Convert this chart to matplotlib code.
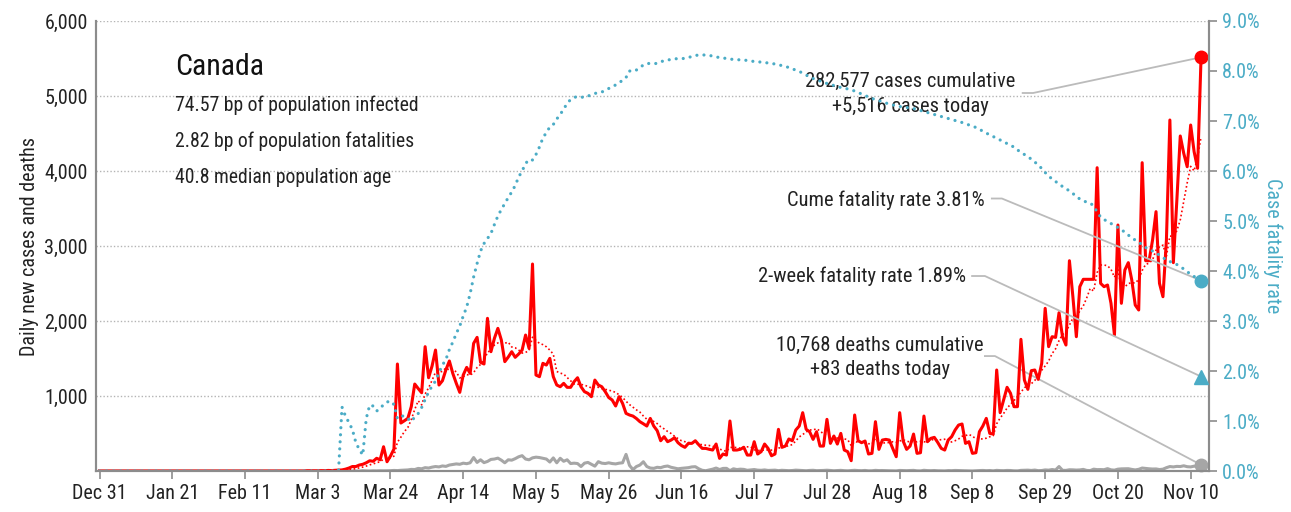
import pandas as pd
import matplotlib
matplotlib.use("Agg")
import matplotlib.pyplot as plt
from matplotlib import font_manager

# ==================================================
# Data (day 0 = Dec 31, 2019)
# ==================================================

start_date = pd.Timestamp("2019-12-31")

cases_lead_zeros = 60
daily_cases = [
    4, 3, 3, 3, 5, 4, 8, 6, 10, 12,
    15, 25, 40, 60, 60, 80, 90, 110, 137, 130,
    170, 150, 324, 124, 200, 293, 1427, 640, 670, 702,
    858, 1160, 1100, 1044, 1658, 1244, 1400, 1613, 1147, 1204,
    1350, 1467, 1300, 1169, 1049, 1280, 1382, 1302, 1702, 1782,
    1449, 1427, 2036, 1591, 1769, 1902, 1747, 1458, 1520, 1591,
    1516, 1560, 1613, 1813, 1636, 2760, 1280, 1258, 1436, 1413,
    1502, 1258, 1147, 1124, 1169, 1116, 1116, 1191, 1244, 1124,
    1058, 1036, 991, 1213, 1147, 1124, 1058, 980, 947, 867,
    991, 902, 769, 747, 733, 700, 658, 630, 600, 702,
    600, 538, 404, 458, 391, 413, 444, 378, 340, 316,
    369, 369, 404, 350, 302, 302, 290, 280, 360, 169,
    227, 213, 667, 280, 280, 290, 316, 213, 213, 391,
    227, 258, 360, 302, 204, 227, 556, 316, 333, 427,
    404, 547, 600, 778, 556, 524, 422, 524, 333, 333,
    689, 369, 467, 360, 502, 280, 258, 138, 747, 404,
    378, 400, 227, 236, 658, 289, 413, 422, 413, 300,
    191, 778, 400, 289, 333, 493, 236, 244, 733, 391,
    436, 449, 380, 302, 280, 413, 458, 547, 613, 627,
    369, 391, 236, 244, 524, 600, 702, 502, 493, 1347,
    778, 947, 1116, 1036, 858, 858, 1756, 1213, 1089, 1338,
    1347, 1222, 1436, 2169, 1658, 1791, 1782, 2111, 1791, 1680,
    2804, 2324, 1791, 2458, 2556, 2556, 2556, 2556, 4044, 2502,
    2458, 2480, 2236, 1813, 3280, 2236, 2680, 2778, 2547, 2213,
    2147, 4111, 2804, 2804, 3080, 3458, 2502, 2324, 3080, 4680,
    2778, 3600, 4467, 4236, 4057, 4613, 4257, 4036, 5516,
]

deaths_lead_zeros = 69
daily_deaths = [
    1,
    0, 0, 0, 0, 0, 0, 5, 2, 1, 3,
    2, 4, 3, 4, 5, 8, 6, 10, 12, 15,
    22, 20, 35, 30, 45, 40, 52, 60, 55, 68,
    62, 80, 88, 95, 90, 105, 98, 110, 180, 115,
    150, 112, 128, 155, 160, 172, 145, 110, 150, 145,
    165, 190, 205, 160, 150, 176, 185, 180, 170, 160,
    120, 175, 110, 170, 130, 150, 100, 105, 100, 60,
    105, 115, 90, 65, 125, 105, 100, 110, 100, 95,
    105, 110, 222, 75, 20, 60, 80, 124, 60, 40,
    36, 50, 45, 60, 67, 50, 40, 30, 36, 40,
    45, 55, 58, 30, 10, 4, 15, 25, 40, 20,
    35, 36, 5, 30, 20, 25, 22, 10, 15, 20,
    12, 10, 15, 8, 10, 12, 5, 10, 8, 5,
    7, 12, 9, 6, 4, 8, 10, 5, 6, 8,
    11, 7, 4, 6, 9, 5, 3, 7, 10, 6,
    5, 8, 3, 4, 9, 6, 7, 5, 4, 3,
    2, 8, 6, 5, 7, 9, 3, 2, 10, 6,
    5, 7, 4, 3, 2, 6, 5, 8, 7, 5,
    3, 2, 1, 4, 6, 8, 5, 7, 3, 9,
    6, 5, 8, 7, 3, 2, 9, 10, 12, 8,
    13, 5, 7, 15, 12, 20, 14, 60, 10, 9,
    17, 16, 13, 15, 22, 8, 6, 25, 19, 20,
    18, 32, 16, 12, 25, 29, 30, 31, 22, 15,
    23, 40, 35, 30, 27, 28, 20, 25, 45, 60,
    55, 62, 60, 70, 58, 55, 65, 60, 83,
]

# cumulative case fatality rate, percent
cfr_lead_zeros = 70
fatality_rate = [
    1.28, 1.10, 0.97, 0.83, 0.57, 0.43, 0.32, 1.05, 1.32, 1.30,
    1.20, 1.25, 1.33, 1.38, 1.40, 1.33, 1.05, 1.10, 1.10, 1.05,
    0.99, 1.08, 1.15, 1.27, 1.43, 1.58, 1.70, 1.80, 1.97, 2.12,
    2.23, 2.43, 2.58, 2.75, 2.90, 3.10, 3.28, 3.55, 3.88, 4.15,
    4.40, 4.55, 4.65, 4.75, 4.93, 5.10, 5.23, 5.35, 5.47, 5.58,
    5.71, 5.88, 6.00, 6.15, 6.23, 6.22, 6.33, 6.48, 6.66, 6.77,
    6.88, 6.93, 7.04, 7.13, 7.24, 7.35, 7.43, 7.47, 7.49, 7.48,
    7.47, 7.50, 7.52, 7.55, 7.57, 7.58, 7.61, 7.65, 7.69, 7.72,
    7.77, 7.81, 7.87, 8.00, 7.99, 8.02, 8.07, 8.12, 8.15, 8.15,
    8.15, 8.15, 8.18, 8.21, 8.22, 8.23, 8.24, 8.25, 8.25, 8.25,
    8.27, 8.29, 8.31, 8.32, 8.32, 8.32, 8.31, 8.30, 8.28, 8.27,
    8.26, 8.25, 8.24, 8.23, 8.23, 8.22, 8.22, 8.21, 8.20, 8.19,
    8.18, 8.18, 8.17, 8.16, 8.15, 8.14, 8.12, 8.11, 8.09, 8.07,
    8.04, 8.02, 7.99, 7.96, 7.92, 7.88, 7.85, 7.83, 7.80, 7.78,
    7.75, 7.73, 7.71, 7.69, 7.67, 7.66, 7.64, 7.62, 7.60, 7.57,
    7.54, 7.51, 7.48, 7.45, 7.43, 7.41, 7.38, 7.36, 7.34, 7.32,
    7.31, 7.29, 7.28, 7.27, 7.26, 7.25, 7.23, 7.21, 7.19, 7.17,
    7.15, 7.13, 7.11, 7.09, 7.07, 7.05, 7.03, 7.01, 6.99, 6.97,
    6.95, 6.92, 6.90, 6.87, 6.83, 6.80, 6.76, 6.72, 6.69, 6.65,
    6.62, 6.58, 6.55, 6.51, 6.48, 6.42, 6.38, 6.33, 6.28, 6.24,
    6.18, 6.12, 6.05, 5.97, 5.90, 5.84, 5.79, 5.74, 5.69, 5.65,
    5.60, 5.55, 5.49, 5.44, 5.40, 5.38, 5.36, 5.30, 5.18, 5.08,
    5.03, 4.99, 4.95, 4.91, 4.87, 4.82, 4.78, 4.72, 4.66, 4.62,
    4.58, 4.52, 4.47, 4.43, 4.40, 4.36, 4.32, 4.27, 4.22, 4.19,
    4.16, 4.13, 4.09, 4.04, 3.99, 3.93, 3.89, 3.85, 3.81,
]

two_week_rate = 1.89

country = "Canada"
info_lines = [
    "74.57 bp of population infected",
    "2.82 bp of population fatalities",
    "40.8 median population age",
]
cases_note = ["282,577 cases cumulative", "+5,516 cases today"]
deaths_note = ["10,768 deaths cumulative", "+83 deaths today"]
cume_note = "Cume fatality rate 3.81%"
two_week_note = "2-week fatality rate 1.89%"

# ==================================================
# Style
# ==================================================

RED = "#FF0000"
TEAL = "#4BACC6"
GRAY = "#A6A6A6"
AXIS = "#8C8C8C"
GRID = "#B4B4B4"

# narrowest installed family first
names = {f.name for f in font_manager.fontManager.ttflist}
for fam in ["Liberation Sans Narrow", "Roboto Condensed",
            "Open Sans Condensed", "Liberation Sans", "DejaVu Sans"]:
    if fam in names:
        plt.rcParams["font.family"] = fam
        break

cases = pd.Series([0] * cases_lead_zeros + daily_cases, dtype=float)
deaths = pd.Series([0] * deaths_lead_zeros + daily_deaths, dtype=float)
cfr = pd.Series([0.0] * cfr_lead_zeros + fatality_rate)
cases_avg = cases.rolling(7, min_periods=1).mean()
last = len(cases) - 1

# ==================================================
# Figure
# ==================================================

fig = plt.figure(figsize=(12.91, 5.12), dpi=100)
ax = fig.add_axes([0.0744, 0.080, 0.8621, 0.879])
ax2 = ax.twinx()

ax.plot(cases.index, cases_avg, color=RED, lw=1.2,
        linestyle=(0, (1, 1.5)), zorder=3)
ax.plot(deaths.index, deaths, color=GRAY, lw=2.2, zorder=2)
ax.plot(cases.index, cases, color=RED, lw=2.2, zorder=4)

ax2.plot(cfr.index, cfr, color=TEAL, lw=2.3,
         linestyle=(0, (0.01, 2.2)), dash_capstyle="round")

# end markers
ax.plot(last, cases.iloc[-1], "o", color=RED, ms=9, clip_on=False, zorder=6)
ax.plot(last, deaths.iloc[-1], "o", color=GRAY, ms=9, clip_on=False, zorder=6)
ax2.plot(last, cfr.iloc[-1], "o", color=TEAL, ms=9, clip_on=False, zorder=6)
ax2.plot(last, two_week_rate, "^", color=TEAL, ms=10, clip_on=False, zorder=6)

# ==================================================
# Axes
# ==================================================

ax.set_xlim(-1, 320.3)
ax.set_ylim(0, 6000)
ax2.set_ylim(0, 9)

xticks = list(range(0, 316, 21))
ax.set_xticks(xticks)
ax.set_xticklabels(
    [f"{(start_date + pd.Timedelta(days=d)):%b} {(start_date + pd.Timedelta(days=d)).day}"
     for d in xticks]
)

yticks = [1000, 2000, 3000, 4000, 5000, 6000]
ax.set_yticks(yticks)
ax.set_yticklabels([f"{v:,}" for v in yticks])
ax.yaxis.grid(True, linestyle=(0, (1, 1.5)), color=GRID, lw=1)
ax.set_axisbelow(True)

ax2.set_yticks([i for i in range(10)])
ax2.set_yticklabels([f"{i:.1f}%" for i in range(10)])

for a in (ax, ax2):
    a.spines["top"].set_visible(False)
    for side in ("left", "right", "bottom"):
        a.spines[side].set_color(AXIS)
        a.spines[side].set_linewidth(1.5)

ax.tick_params(axis="y", length=0, labelsize=14.5, pad=6, labelcolor="#222222")
ax.tick_params(axis="x", length=6, width=1.2, color=AXIS,
               labelsize=14.5, labelcolor="#222222")
ax2.tick_params(axis="y", length=6, width=1.2, color=AXIS,
                labelsize=14.5, labelcolor=TEAL)

ax.set_ylabel("Daily new cases and deaths", fontsize=14.5, color="#222222", labelpad=4)
ax2.set_ylabel("Case fatality rate", fontsize=14.5, color=TEAL,
               rotation=270, labelpad=16)

# ==================================================
# Text and annotations
# ==================================================

ax.text(21.8, 5390, country, fontsize=21.5, va="center", ha="left", color="#111111")
for i, line in enumerate(info_lines):
    ax.text(21.8, 4880 - i * 480, line, fontsize=14.2, va="center",
            ha="left", color="#222222")

note_kw = dict(fontsize=14.8, va="center", color="#222222")
line_kw = dict(color="#BBBBBB", lw=1.3, clip_on=False, zorder=1)

ax.text(234, 5190, cases_note[0], ha="center", **note_kw)
ax.text(234, 4855, cases_note[1], ha="center", **note_kw)
ax.plot([266.5, 269.5, last], [5040, 5040, cases.iloc[-1]], **line_kw)

ax2.text(255.4, 5.42, cume_note, ha="right", **note_kw)
ax2.plot([257.6, 260.5, last], [5.45, 5.45, cfr.iloc[-1]], **line_kw)

ax2.text(250.0, 3.9, two_week_note, ha="right", **note_kw)
ax2.plot([251.9, 255.6, last], [3.9, 3.9, two_week_rate], **line_kw)

ax.text(225.3, 1680, deaths_note[0], ha="center", **note_kw)
ax.text(225.3, 1360, deaths_note[1], ha="center", **note_kw)
ax.plot([255.6, 258.5, last], [1533, 1533, deaths.iloc[-1]], **line_kw)

fig.savefig("out.png", dpi=100)
